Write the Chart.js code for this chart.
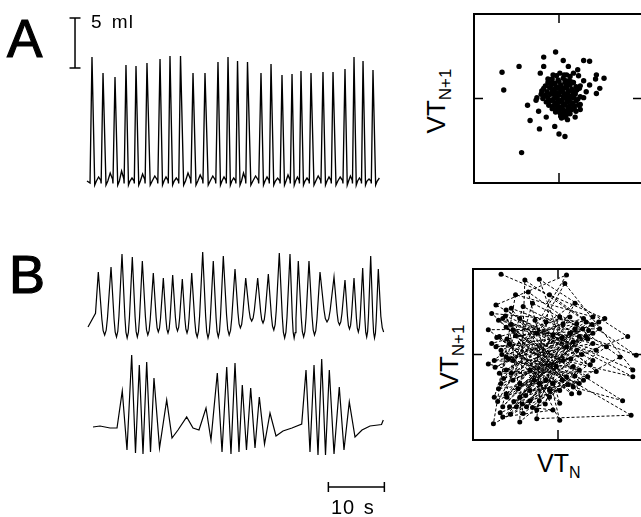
<!DOCTYPE html>
<html><head><meta charset="utf-8">
<script src="https://cdn.jsdelivr.net/npm/chart.js@4/dist/chart.umd.min.js"></script>
<style>
html,body{margin:0;padding:0;background:#fff;overflow:hidden}
#wrap{position:relative;width:641px;height:517px;overflow:hidden;background:#fff;font-family:"Liberation Sans",Arial,Helvetica,sans-serif;color:#000}
canvas{position:absolute}
.t{position:absolute;white-space:nowrap;line-height:1}
.big{-webkit-text-stroke:1.2px #000}
.rot{position:absolute;white-space:nowrap;line-height:1;font-size:26px;transform:translate(-50%,-50%) rotate(-90deg)}
.rot sub{font-size:17px;vertical-align:-6px;line-height:0}
.bx sub{font-size:16px;vertical-align:-6px;line-height:0}
</style></head><body><div id="wrap">
<canvas id="cA" width="335" height="192" style="left:60px;top:8px"></canvas>
<canvas id="cB1" width="315" height="105" style="left:80px;top:240px"></canvas>
<canvas id="cB2" width="315" height="160" style="left:80px;top:340px"></canvas>
<canvas id="sA" width="178" height="177" style="left:470px;top:10px"></canvas>
<canvas id="sB" width="178" height="179" style="left:469px;top:265px"></canvas>
<div class="t big" style="left:7px;top:12px;font-size:53px">A</div>
<div class="t big" style="left:9px;top:247px;font-size:54px">B</div>
<div class="t" style="left:91px;top:12px;font-size:19px;letter-spacing:1px;word-spacing:3px">5 ml</div>
<div class="t" style="left:331px;top:497px;font-size:20px;letter-spacing:1px;word-spacing:2px">10 s</div>
<div class="rot" style="left:436px;top:101px">VT<sub>N+1</sub></div>
<div class="rot" style="left:449px;top:357px">VT<sub>N+1</sub></div>
<div class="t bx" style="left:537px;top:451px;font-size:25px">VT<sub>N</sub></div>
</div>
<script>
// ---------- Panel A trace: breath peaks (time s, volume ml) ----------
const peakTimeA = [0.89,2.86,5.0,6.96,8.75,10.71,13.04,14.82,16.7,18.93,21.07,23.39,25.18,26.88,28.66,31.07,32.86,34.82,36.61,38.21,40.0,42.14,43.93,46.07,47.68,49.29,51.07];
const peakVolA  = [12.5,10.9,10.5,11.7,11.6,11.9,12.3,12.6,12.6,10.9,10.9,12.0,12.5,12.1,12.0,10.9,11.8,10.7,10.8,11.1,10.9,11.0,11.0,11.3,12.5,12.1,11.2];
const humpVolA  = [0.5,0.9,1.1,0.4,0.8,0.6,0.5,0.4,0.9,0.7,0.6,0.5,0.4,0.9,0.6,0.5,0.4,0.7,0.5,0.4,0.6,0.5,0.5,0.6,0.4,0.3,0.4];

// ---------- Panel B upper trace ----------
const peakTimeB1  = [2.02,4.29,6.25,8.09,9.88,11.84,13.63,15.3,17.02,18.7,20.66,22.55,24.34,26.43,28.34,30.48,32.38,34.34,36.25,37.73,39.64,41.61,44.11,46.07,47.68,49.23,50.66,52.02];
const peakVolB1   = [6.3,6.8,8.1,7.8,7.4,6.2,5.7,6.0,5.6,6.2,8.3,7.4,7.9,6.6,5.7,5.7,6.1,8.2,8.1,7.4,7.4,6.3,5.8,5.5,5.7,6.7,7.9,6.6];
const troughVolB1 = [0.8,0.0,-0.2,-0.3,-0.2,0.0,0.3,0.2,0.4,0.2,-0.2,-0.3,-0.2,0.0,0.7,1.4,1.2,0.5,-0.3,-0.3,-0.2,0.0,1.3,1.0,0.6,0.3,-0.2,-0.3,0.3];

// ---------- Panel B lower trace (periodic breathing), vertices ----------
const timeB2 = [1.07,2.32,4.11,5.36,6.30,7.14,7.98,8.66,9.34,10.0,10.66,11.34,11.96,12.95,14.23,15.18,16.25,17.80,18.93,20.0,21.25,22.14,23.27,24.11,24.95,25.71,26.43,27.14,27.73,28.48,29.23,30.0,30.77,31.7,32.68,33.75,35.0,36.6,38.34,39.11,39.82,40.54,41.25,41.91,42.59,43.27,44.11,45.05,45.89,46.84,47.86,49.11,50.54,51.96,52.59,52.91];
const volB2  = [0.0,0.1,-0.1,-0.1,3.6,-2.3,7.2,-2.6,6.2,-2.7,6.5,-2.5,4.9,-2.1,2.7,-1.1,-0.3,1.0,-0.1,-0.3,1.9,-1.3,5.4,-2.5,6.0,-2.7,6.4,-2.5,4.2,-2.3,3.9,-2.1,3.0,-1.7,1.4,-0.9,-0.4,-0.1,0.3,5.7,-2.5,6.2,-2.8,6.8,-2.8,5.7,-2.7,4.0,-2.3,2.5,-1.0,-0.3,0.1,0.2,0.25,0.7];

// ---------- Return maps (VT_N vs VT_N+1), normalised units ----------
const scatterAx = [-0.67,-0.47,-0.65,-0.18,-0.04,-0.18,-0.22,0.05,0.11,0.22,0.29,0.36,0.44,0.53,0.43,0.48,0.44,0.36,0.32,-0.37,-0.27,-0.24,-0.34,-0.15,-0.23,-0.05,0.0,0.07,0.19,0.25,-0.44,0.23,0.29,0.25,0.19,0.29,0.25,0.13,0.03,0.09,-0.13,-0.07,0.01,0.09,0.17,-0.26,-0.2,
 -0.08,-0.01,0.05,0.12,-0.13,-0.05,0.0,0.07,0.1,0.17,-0.16,-0.09,-0.03,0.02,0.08,0.13,0.2,-0.18,-0.11,-0.06,-0.01,0.04,0.09,0.15,0.21,-0.2,-0.14,-0.08,-0.03,0.02,0.06,0.11,0.17,-0.21,-0.16,-0.1,-0.05,0.0,0.05,0.09,0.14,0.19,-0.19,-0.13,-0.07,-0.02,0.03,0.08,0.12,0.17,-0.15,-0.1,-0.05,0.0,0.05,0.1,0.15,0.2,-0.12,-0.07,-0.02,0.03,0.07,0.12,0.17,-0.08,-0.03,0.02,0.06,0.11,0.15,-0.04,0.01,0.05,0.09,0.13,0.02,0.07,0.24,0.25,0.23,0.2,0.1,0.13,0.06,-0.03,
 -0.06,0.03,0.11,0.18,-0.12,0.0,0.14,-0.09,0.06,0.16,0.22,-0.17,0.08];
const scatterAy = [0.31,0.38,0.10,0.49,0.55,0.38,0.30,0.45,0.38,0.34,0.45,0.44,0.28,0.24,0.23,0.12,0.06,0.16,0.08,-0.08,-0.02,-0.15,-0.26,-0.22,-0.36,-0.33,-0.42,-0.45,-0.22,-0.13,-0.64,0.27,0.21,0.15,0.07,0.01,-0.07,-0.13,-0.23,-0.19,0.23,0.28,0.30,0.28,0.30,0.01,0.09,
 0.23,0.22,0.24,0.21,0.19,0.18,0.2,0.19,0.17,0.19,0.15,0.16,0.14,0.16,0.14,0.16,0.14,0.12,0.13,0.11,0.12,0.1,0.12,0.11,0.1,0.09,0.08,0.09,0.07,0.08,0.06,0.08,0.07,0.05,0.04,0.05,0.03,0.04,0.02,0.04,0.03,0.05,0.0,0.01,-0.01,0.0,-0.02,0.0,-0.01,0.01,-0.04,-0.03,-0.05,-0.04,-0.06,-0.04,-0.05,-0.03,-0.08,-0.09,-0.08,-0.1,-0.08,-0.09,-0.08,-0.12,-0.13,-0.12,-0.14,-0.12,-0.13,-0.16,-0.17,-0.18,-0.16,-0.18,-0.21,-0.22,0.12,0.02,-0.08,-0.15,-0.25,0.26,0.28,0.27,
 0.06,0.13,0.02,-0.11,-0.02,-0.1,0.2,0.18,-0.19,0.09,-0.01,0.03,0.21];

const scatterBx = [-0.67,0.55,-0.61,0.33,-0.78,0.25,-0.22,0.82,-0.67,0.10,-0.73,0.41,-0.45,-0.39,0.92,-0.55,0.16,-0.82,0.49,-0.71,0.08,0.88,-0.62,0.02,-0.35,0.73,-0.76,-0.50,0.41,-0.65,0.30,-0.78,0.88,-0.45,0.18,-0.70,0.57,-0.56,0.20,-0.82,0.76,-0.61,0.35,-0.49,0.14,-0.72,0.86,-0.25,-0.10,0.40,-0.74,0.22,-0.60,0.30,-0.68,-0.30,0.29,-0.64,0.45,-0.55,0.12,-0.75,-0.41,0.35,-0.66,0.25,-0.41,-0.61,0.38,-0.57,0.02,-0.27,0.45,-0.69,0.33,-0.60,0.06,-0.67,0.20,-0.52,0.48,-0.58,0.10,-0.65,0.28,-0.57,0.36,-0.50,0.05,-0.70,0.41,-0.55,0.15,-0.37,0.25,-0.53,0.06,-0.47,0.41,-0.75,0.18,-0.42,0.02,-0.53,0.22,-0.61,0.14,-0.45,0.10,-0.33,0.18,-0.73,0.05,-0.25,-0.06,-0.45,0.02,-0.69,-0.06,-0.53,-0.14,-0.33,0.25,-0.61,-0.25,-0.22,0.20,-0.38,-0.14,-0.65,-0.06,-0.30,-0.15,-0.10,-0.28,-0.10,-0.02,-0.22,-0.33];
const scatterBy = [0.94,0.42,-0.18,0.38,0.48,-0.45,0.88,0.21,-0.34,0.93,0.58,-0.07,-0.79,0.87,-0.01,0.54,-0.46,0.29,0.30,-0.55,0.83,-0.18,0.45,-0.77,0.73,-0.03,-0.81,0.70,0.44,-0.61,0.42,0.13,-0.26,0.42,-0.38,0.40,0.09,-0.70,0.60,-0.11,-0.54,0.32,-0.26,-0.61,0.44,0.20,-0.71,-0.75,0.70,0.35,-0.15,0.36,0.18,-0.30,-0.68,0.60,0.30,-0.28,0.05,0.35,-0.35,-0.50,0.56,0.18,0.0,-0.18,-0.69,0.52,-0.12,0.13,-0.57,0.40,-0.20,-0.22,0.21,-0.50,0.36,0.05,-0.25,-0.55,0.38,-0.05,-0.26,0.42,0.0,-0.61,0.28,0.22,-0.30,-0.40,0.25,-0.22,-0.05,-0.61,0.21,0.29,-0.07,-0.40,0.13,-0.07,-0.14,-0.58,0.44,-0.30,0.05,-0.46,0.25,-0.50,0.09,-0.54,0.15,0.09,0.20,-0.65,0.23,-0.34,-0.42,0.21,-0.34,-0.07,0.38,-0.42,-0.34,-0.03,0.25,-0.54,0.30,-0.48,-0.30,-0.73,-0.65,-0.62,-0.58,-0.42,-0.30,-0.50,-0.14,-0.34,-0.18];

// scale bars (units of the traces)
const scaleBarMl = 5;
const scaleBarSec = 10;

// ---------------- build vertices ----------------
const ptsA = [{x:0,y:0.1},{x:peakTimeA[0]-0.35,y:-0.1}];
peakTimeA.forEach((t,i)=>{
  const last = i===peakTimeA.length-1;
  const g = last ? 1.9 : peakTimeA[i+1]-t;
  const h = humpVolA[i];
  ptsA.push({x:t,y:peakVolA[i]});
  ptsA.push({x:t+0.25*g,y:-0.3});
  ptsA.push({x:t+0.4*g,y:0.1});
  ptsA.push({x:t+0.6*g,y:h});
  if(!last){
    ptsA.push({x:t+0.8*g,y:0.3*h});
    ptsA.push({x:t+0.83*g,y:-0.15});
  }
});

const ptsB1 = [{x:0.18,y:troughVolB1[0]}];
peakTimeB1.forEach((t,i)=>{
  const p = peakVolB1[i];
  if(i===0){ ptsB1.push({x:t-0.5,y:troughVolB1[0]+0.25*(p-troughVolB1[0])}); }
  ptsB1.push({x:t,y:p});
  const tr = troughVolB1[i+1];
  if(i<peakTimeB1.length-1){
    const g = peakTimeB1[i+1]-t, m=t+g/2, pn=peakVolB1[i+1];
    ptsB1.push({x:m-0.22*g,y:tr+0.25*(p-tr)});
    ptsB1.push({x:m-0.12*g,y:tr+0.07*(p-tr)});
    ptsB1.push({x:m,y:tr});
    ptsB1.push({x:m+0.12*g,y:tr+0.07*(pn-tr)});
    ptsB1.push({x:m+0.22*g,y:tr+0.25*(pn-tr)});
  } else {
    ptsB1.push({x:t+0.45,y:tr+0.25*(p-tr)});
    ptsB1.push({x:t+0.7,y:tr+0.07*(p-tr)});
    ptsB1.push({x:t+0.95,y:tr});
  }
});

const ptsB2 = timeB2.map((t,i)=>({x:t,y:volB2[i]}));

// ---------------- charts ----------------
const line = (data,w)=>({type:'line',data,borderColor:'#000',borderWidth:w||1.2,pointRadius:0,tension:0,fill:false});
function traceChart(id,datasets,xmin,xmax,ymin,ymax){
  return new Chart(document.getElementById(id),{
    type:'line',
    data:{datasets},
    options:{responsive:false,animation:false,events:[],
      layout:{padding:0},
      plugins:{legend:{display:false},tooltip:{enabled:false}},
      scales:{x:{type:'linear',display:false,min:xmin,max:xmax},y:{type:'linear',display:false,min:ymin,max:ymax}}}
  });
}
// panel A trace + 5 ml bar (bar placed left of the trace)
const barX = -2.14, barBottom = 11.4, tickHalf = 0.98;
traceChart('cA',[
  line(ptsA,1.35),
  line([{x:barX,y:barBottom},{x:barX,y:barBottom+scaleBarMl}],1.5),
  line([{x:barX-tickHalf,y:barBottom},{x:barX+tickHalf,y:barBottom}],1.5),
  line([{x:barX-tickHalf,y:barBottom+scaleBarMl},{x:barX+tickHalf,y:barBottom+scaleBarMl}],1.5)
], (60-87)/5.6, (395-87)/5.6, -1.8, 17.4);

traceChart('cB1',[line(ptsB1,1.2)], (80-87)/5.6, (395-87)/5.6, -1.0, 9.5);

const sbStart = 43.1, sbY = -6.0;
traceChart('cB2',[
  line(ptsB2,1.2),
  line([{x:sbStart,y:sbY},{x:sbStart+scaleBarSec,y:sbY}],1.5),
  line([{x:sbStart,y:sbY-0.5},{x:sbStart,y:sbY+0.5}],1.5),
  line([{x:sbStart+scaleBarSec,y:sbY-0.5},{x:sbStart+scaleBarSec,y:sbY+0.5}],1.5)
], (80-87)/5.6, (395-87)/5.6, -7.3, 8.7);

const framePlugin = {
  id:'frame',
  beforeDatasetsDraw(chart){
    const {ctx,chartArea:a,scales} = chart;
    const x0 = scales.x.getPixelForValue(0), y0 = scales.y.getPixelForValue(0);
    ctx.save();
    ctx.strokeStyle='#000'; ctx.lineWidth=2;
    ctx.strokeRect(a.left,a.top,a.right-a.left,a.bottom-a.top);
    ctx.lineWidth=1.5;
    ctx.beginPath();
    ctx.moveTo(x0,a.bottom); ctx.lineTo(x0,a.bottom-10);
    ctx.moveTo(x0,a.top); ctx.lineTo(x0,a.top+9);
    ctx.moveTo(a.left,y0); ctx.lineTo(a.left+9,y0);
    ctx.moveTo(a.right,y0); ctx.lineTo(a.right-11,y0);
    ctx.stroke();
    ctx.restore();
  }
};
function scatterChart(id,xs,ys,withLine,r){
  const data = xs.map((x,i)=>({x,y:ys[i]}));
  return new Chart(document.getElementById(id),{
    type:'scatter',
    data:{datasets:[{data,backgroundColor:'#000',borderColor:'#000',pointRadius:r,pointBorderWidth:0,
      showLine:!!withLine,borderWidth:1,borderDash:[3,2],tension:0}]},
    options:{responsive:false,animation:false,events:[],
      layout:{padding:4},
      plugins:{legend:{display:false},tooltip:{enabled:false}},
      scales:{x:{type:'linear',display:false,min:-1,max:1},y:{type:'linear',display:false,min:-1,max:1}}},
    plugins:[framePlugin]
  });
}
scatterChart('sA',scatterAx,scatterAy,false,2.7);
scatterChart('sB',scatterBx,scatterBy,true,2.5);
</script>
</body></html>
